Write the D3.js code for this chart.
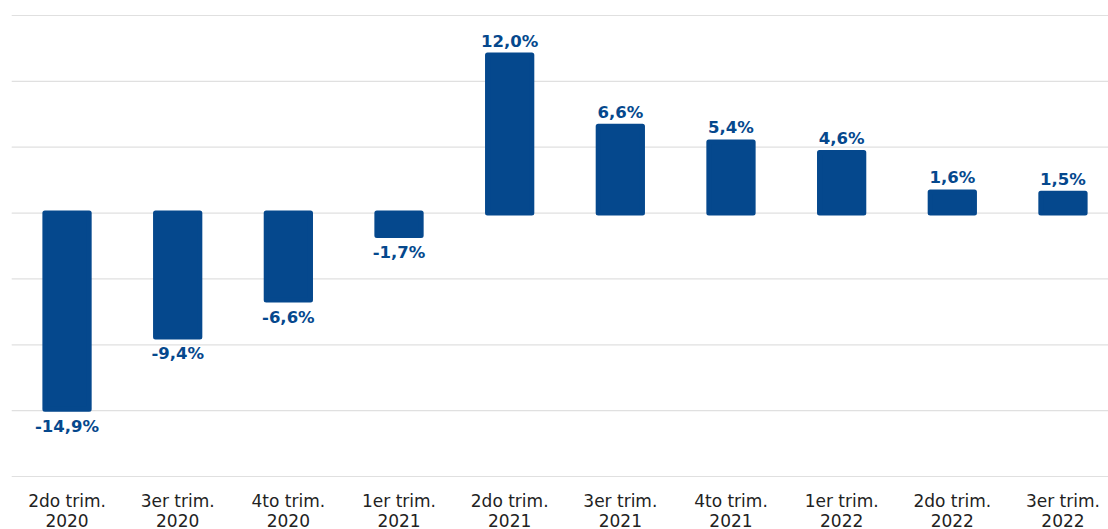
<!DOCTYPE html>
<html><head><meta charset="utf-8">
<script src="https://cdn.jsdelivr.net/npm/d3@7"></script>
<style>body{margin:0;background:#fff}svg{display:block}</style>
</head><body>
<svg id="c" width="1108" height="529"></svg>
<script>
const categories = [["2do trim.","2020"],["3er trim.","2020"],["4to trim.","2020"],["1er trim.","2021"],["2do trim.","2021"],["3er trim.","2021"],["4to trim.","2021"],["1er trim.","2022"],["2do trim.","2022"],["3er trim.","2022"]];
const values = [-14.9,-9.4,-6.6,-1.7,12.0,6.6,5.4,4.6,1.6,1.5];
const gridTicks = [15,10,5,0,-5,-10,-15,-20];

const svg = d3.select("#c");
const font = "'DejaVu Sans', sans-serif";
const blue = "#05488d";
const x = d3.scaleBand().domain(d3.range(values.length)).range([11.7,1118.3]).paddingInner(0.6).paddingOuter(0.3);
const y = d3.scaleLinear().domain([-20,15]).range([476.5,15.5]);

svg.append("g").selectAll("line").data(gridTicks).join("line")
  .attr("x1",11.7).attr("x2",1108).attr("y1",d=>y(d)).attr("y2",d=>y(d))
  .attr("stroke","#e0e0e0").attr("stroke-width",1.2);

svg.append("g").selectAll("rect").data(values).join("rect")
  .attr("x",(d,i)=>x(i)).attr("width",x.bandwidth())
  .attr("y",d=>y(Math.max(0,d))).attr("height",d=>Math.abs(y(d)-y(0)))
  .attr("fill",blue).attr("stroke",blue).attr("stroke-width",5).attr("stroke-linejoin","round");

svg.append("g").selectAll("text").data(values).join("text")
  .attr("x",(d,i)=>x(i)+x.bandwidth()/2)
  .attr("y",d=> d>=0 ? y(d)-8.5 : y(d)+22.5)
  .attr("text-anchor","middle").attr("font-family",font).attr("font-weight","bold")
  .attr("font-size",16.5).attr("fill",blue)
  .text(d=>d3.format(".1f")(d).replace(".",",").replace("−","-")+"%");

const lab = svg.append("g").selectAll("text").data(categories).join("text")
  .attr("x",(d,i)=>x(i)+x.bandwidth()/2).attr("y",507)
  .attr("text-anchor","middle").attr("font-family",font).attr("font-size",17).attr("fill","#222");
lab.append("tspan").attr("x",(d,i)=>x(i)+x.bandwidth()/2).text(d=>d[0]);
lab.append("tspan").attr("x",(d,i)=>x(i)+x.bandwidth()/2).attr("dy",20).text(d=>d[1]);
</script>
</body></html>
